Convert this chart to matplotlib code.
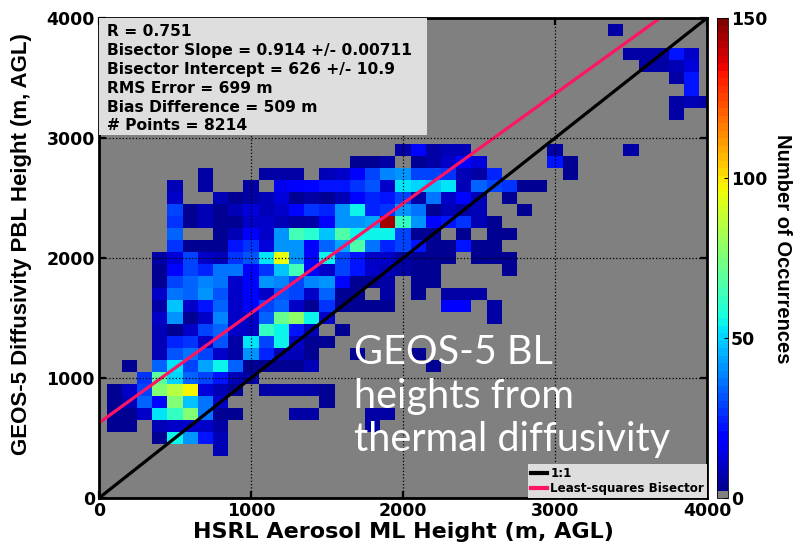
import numpy as np
import matplotlib
matplotlib.use('Agg')
from matplotlib import pyplot as plt
from matplotlib.colors import ListedColormap, Normalize
from matplotlib.patches import Rectangle

# 2D histogram of GEOS-5 vs HSRL boundary layer heights (100 m bins, centres in m)
# one line per row of bins (same y), parallel lists
cell_x = [
    3400,
    3500, 3600, 3700, 3800, 3900,
    3600, 3700, 3800, 3900,
    3800, 3900,
    3900,
    3800, 3900, 4000,
    3800,
    2000, 2100, 2200, 2300, 2400, 3000, 3500,
    1700, 1800, 1900, 2100, 2200, 2300, 2400, 2500, 3000, 3100,
    700, 1100, 1200, 1300, 1500, 1600, 1700, 1800, 1900, 2000, 2100, 2200, 2300, 2400, 2500, 2600, 3100,
    500, 700, 1000, 1200, 1300, 1400, 1500, 1600, 1700, 1800, 1900, 2000, 2100, 2200, 2300, 2400, 2500, 2600, 2700, 2800, 2900,
    500, 800, 900, 1000, 1100, 1200, 1300, 1400, 1500, 1600, 1700, 1800, 1900, 2000, 2100, 2200, 2300, 2400, 2500, 2700,
    500, 600, 700, 800, 900, 1000, 1100, 1200, 1300, 1400, 1500, 1600, 1700, 1800, 1900, 2000, 2100, 2200, 2300, 2400, 2500, 2800,
    500, 600, 700, 800, 900, 1000, 1100, 1200, 1300, 1400, 1500, 1600, 1700, 1800, 1900, 2000, 2100, 2200, 2300, 2400, 2500, 2600,
    500, 800, 900, 1000, 1100, 1200, 1300, 1400, 1500, 1600, 1700, 1800, 1900, 2000, 2100, 2200, 2400, 2600, 2700,
    500, 600, 700, 800, 900, 1000, 1100, 1200, 1300, 1400, 1500, 1600, 1700, 1800, 1900, 2000, 2100, 2200, 2300, 2400, 2500, 2600,
    400, 500, 600, 700, 800, 900, 1000, 1100, 1200, 1300, 1400, 1500, 1600, 1700, 1800, 1900, 2000, 2100, 2200, 2300, 2500, 2600, 2700,
    400, 500, 600, 700, 800, 900, 1000, 1100, 1200, 1300, 1400, 1500, 1600, 1700, 1800, 1900, 2000, 2100, 2200, 2700,
    400, 500, 600, 700, 800, 900, 1000, 1100, 1200, 1300, 1400, 1500, 1600, 1700, 1800, 1900, 2100, 2200,
    400, 500, 600, 700, 800, 900, 1000, 1100, 1200, 1300, 1400, 1500, 1600, 1700, 1900, 2100, 2300, 2400, 2500,
    400, 500, 600, 700, 800, 900, 1000, 1100, 1200, 1300, 1400, 1500, 1600, 1700, 1800, 1900, 2300, 2400, 2600,
    400, 500, 600, 700, 800, 900, 1000, 1100, 1200, 1300, 1400, 1500, 2600,
    400, 500, 600, 700, 800, 900, 1000, 1100, 1200, 1300, 1400, 1600,
    400, 500, 600, 700, 800, 900, 1000, 1100, 1200, 1300, 1400, 1500,
    400, 500, 600, 700, 800, 900, 1000, 1100, 1200, 1300, 1400, 1700, 2100,
    200, 400, 500, 600, 700, 800, 900, 1000, 1100, 1200, 1300, 1400, 2200,
    300, 400, 500, 600, 700, 800, 900, 1000,
    100, 200, 300, 400, 500, 600, 700, 800, 900, 1100, 1200, 1300, 1400, 1500,
    100, 200, 300, 400, 500, 600, 700, 800, 1500,
    100, 200, 300, 400, 500, 600, 700, 800, 900, 1300, 1400, 1800, 1900,
    100, 200, 400, 500, 600, 700, 800, 1800,
    400, 500, 600, 700, 800,
    800,
]
cell_y = (
    [3900] * 1 + [3700] * 5 + [3600] * 4 + [3500] * 2 + [3400] * 1 + [3300] * 3 + [3200] * 1
    + [2900] * 7 + [2800] * 10 + [2700] * 17 + [2600] * 21 + [2500] * 20 + [2400] * 22
    + [2300] * 22 + [2200] * 19 + [2100] * 22 + [2000] * 23 + [1900] * 20 + [1800] * 18
    + [1700] * 19 + [1600] * 19 + [1500] * 13 + [1400] * 12 + [1300] * 12 + [1200] * 13
    + [1100] * 13 + [1000] * 8 + [900] * 14 + [800] * 9 + [700] * 13 + [600] * 8
    + [500] * 5 + [400] * 1
)
cell_count = [
    5,
    5, 5, 5, 22, 10,
    5, 5, 9, 12,
    6, 22,
    22,
    5, 8, 6,
    5,
    6, 20, 5, 8, 8, 5, 5,
    4, 4, 5, 4, 6, 10, 18, 12, 22, 4,
    5, 6, 5, 6, 8, 10, 18, 30, 38, 40, 30, 30, 26, 9, 5, 25, 4,
    9, 5, 5, 16, 18, 20, 22, 22, 28, 32, 10, 52, 50, 48, 52, 9, 33, 30, 26, 4, 4,
    10, 8, 4, 6, 8, 12, 4, 6, 4, 9, 20, 24, 22, 30, 5, 37, 10, 20, 9, 4,
    30, 4, 8, 4, 8, 12, 8, 10, 20, 28, 25, 40, 55, 24, 28, 40, 37, 4, 9, 5, 9, 4,
    28, 4, 9, 4, 4, 10, 10, 9, 5, 5, 18, 42, 42, 44, 145, 63, 40, 20, 22, 26, 9, 4,
    33, 4, 8, 18, 10, 40, 65, 60, 48, 67, 54, 55, 56, 30, 4, 4, 4, 4, 4,
    28, 4, 4, 4, 22, 26, 12, 40, 42, 18, 33, 44, 67, 37, 24, 30, 22, 4, 4, 22, 4, 4,
    5, 12, 30, 10, 9, 28, 32, 52, 95, 40, 18, 56, 30, 22, 10, 10, 5, 4, 4, 4, 4, 4, 4,
    4, 20, 30, 25, 37, 37, 18, 26, 48, 65, 18, 10, 30, 22, 10, 9, 5, 4, 4, 4,
    4, 30, 33, 38, 37, 10, 20, 40, 38, 30, 38, 42, 20, 4, 4, 5, 4, 4,
    10, 37, 35, 40, 32, 10, 20, 10, 32, 30, 10, 33, 4, 4, 5, 4, 5, 5, 5,
    5, 48, 10, 22, 33, 10, 20, 30, 33, 10, 4, 26, 4, 4, 4, 4, 18, 18, 5,
    10, 40, 4, 10, 38, 10, 10, 33, 72, 78, 56, 10, 5,
    9, 4, 10, 30, 33, 10, 10, 63, 56, 22, 9, 4,
    9, 24, 26, 10, 32, 6, 52, 30, 56, 10, 4, 4,
    9, 32, 37, 30, 10, 5, 40, 25, 9, 9, 4, 4, 4,
    4, 33, 52, 30, 44, 54, 33, 4, 4, 4, 4, 9, 4,
    28, 68, 50, 33, 30, 22, 8, 5,
    4, 10, 30, 75, 85, 97, 12, 8, 4, 6, 5, 6, 5, 4,
    4, 9, 33, 20, 75, 48, 37, 10, 4,
    4, 4, 10, 52, 63, 75, 37, 4, 4, 5, 5, 5, 5,
    4, 4, 9, 10, 10, 10, 6, 5,
    4, 54, 40, 22, 9,
    9,
]

stats_lines = [
    'R = 0.751',
    'Bisector Slope = 0.914 +/- 0.00711',
    'Bisector Intercept = 626 +/- 10.9',
    'RMS Error = 699 m',
    'Bias Difference = 509 m',
    '# Points = 8214',
]
bisector_slope = 0.914
bisector_intercept = 626
axis_max = 4000
bin_width = 100

plt.rcParams['font.family'] = ['DejaVu Sans']
plt.rcParams['font.weight'] = 'bold'

# histogram matrix for pcolormesh
n_bins = axis_max // bin_width + 1
hist = np.zeros((n_bins, n_bins))
for x, y, n in zip(cell_x, cell_y, cell_count):
    hist[y // bin_width, x // bin_width] = n
edges = np.arange(n_bins + 1) * bin_width - bin_width / 2

# MATLAB-like jet(64) with gray for empty bins
jet_colors = plt.get_cmap('jet', 64)(np.arange(64))
jet_colors[0] = [0.5, 0.5, 0.5, 1.0]
cmap = ListedColormap(jet_colors)
norm = Normalize(vmin=0, vmax=150)

W, H = 795, 543
fig = plt.figure(figsize=(W / 100, H / 100), dpi=100)
ax = fig.add_axes([99 / W, 45 / H, 608 / W, 480 / H])
ax.set_facecolor('#808080')

mesh = ax.pcolormesh(edges, edges, hist, cmap=cmap, norm=norm)

ax.plot([0, axis_max], [0, axis_max], color='black', lw=2.3, label='1:1')
x_end = (axis_max - bisector_intercept) / bisector_slope
ax.plot([0, x_end], [bisector_intercept, bisector_intercept + bisector_slope * x_end],
        color='#ff1464', lw=2.3, label='Least-squares Bisector')

ax.set_xlim(0, axis_max)
ax.set_ylim(0, axis_max)
ax.set_xticks([0, 1000, 2000, 3000, 4000])
ax.set_yticks([0, 1000, 2000, 3000, 4000])
ax.grid(True, linestyle=':', color='black', linewidth=0.9)
ax.set_axisbelow(False)
ax.tick_params(direction='in', length=5, width=1.6, top=True, right=True,
               labelsize=12.5, pad=3)
for s in ax.spines.values():
    s.set_linewidth(2)

ax.set_xlabel('HSRL Aerosol ML Height (m, AGL)', fontsize=16, fontweight='bold',
              labelpad=1)
ax.set_ylabel('GEOS-5 Diffusivity PBL Height (m, AGL)', fontsize=16,
              fontweight='bold', family='Liberation Sans')
ax.yaxis.set_label_coords(-0.11, 0.53)

# stats box
box_right = (427 - 99) / 608
box_bottom = (498 - 135) / 480
ax.add_patch(Rectangle((0, box_bottom), box_right, 1 - box_bottom, transform=ax.transAxes,
                       facecolor='#dedede', edgecolor='none', zorder=5))
for k, line in enumerate(stats_lines):
    ax.text(0.013, (498 - 31.5 - 18.9 * k) / 480, line, transform=ax.transAxes,
            fontsize=11.2, fontweight='bold', va='center', ha='left', zorder=6)

ax.text((354 - 99) / 608, (498 - 334) / 480, 'GEOS-5 BL\nheights from\nthermal diffusivity',
        transform=ax.transAxes, color='white', fontsize=28.5, fontweight='normal',
        family='Lato', va='top', ha='left', linespacing=1.22, zorder=6)

leg = ax.legend(loc='lower right', fontsize=8.6, frameon=True, fancybox=False,
                borderaxespad=0, borderpad=0.25, handlelength=1.4, handletextpad=0.25,
                labelspacing=0.15)
leg.get_frame().set_facecolor('#dedede')
leg.get_frame().set_edgecolor('none')
leg.get_frame().set_alpha(1)
for h in leg.get_lines():
    h.set_linewidth(3)
leg.set_zorder(7)

cax = fig.add_axes([717 / W, 45 / H, 11 / W, 480 / H])
cb = fig.colorbar(mesh, cax=cax, ticks=[0, 50, 100, 150])
cb.outline.set_linewidth(0.6)
cax.tick_params(direction='in', length=3, width=0.8, labelsize=12.5, pad=2)
cb.set_label('Number of Occurrences', rotation=270, fontsize=14.5, fontweight='bold',
             family='Liberation Sans', labelpad=17)
cax.yaxis.set_label_coords(6.8, 0.52)

fig.savefig('out.png', dpi=100)
